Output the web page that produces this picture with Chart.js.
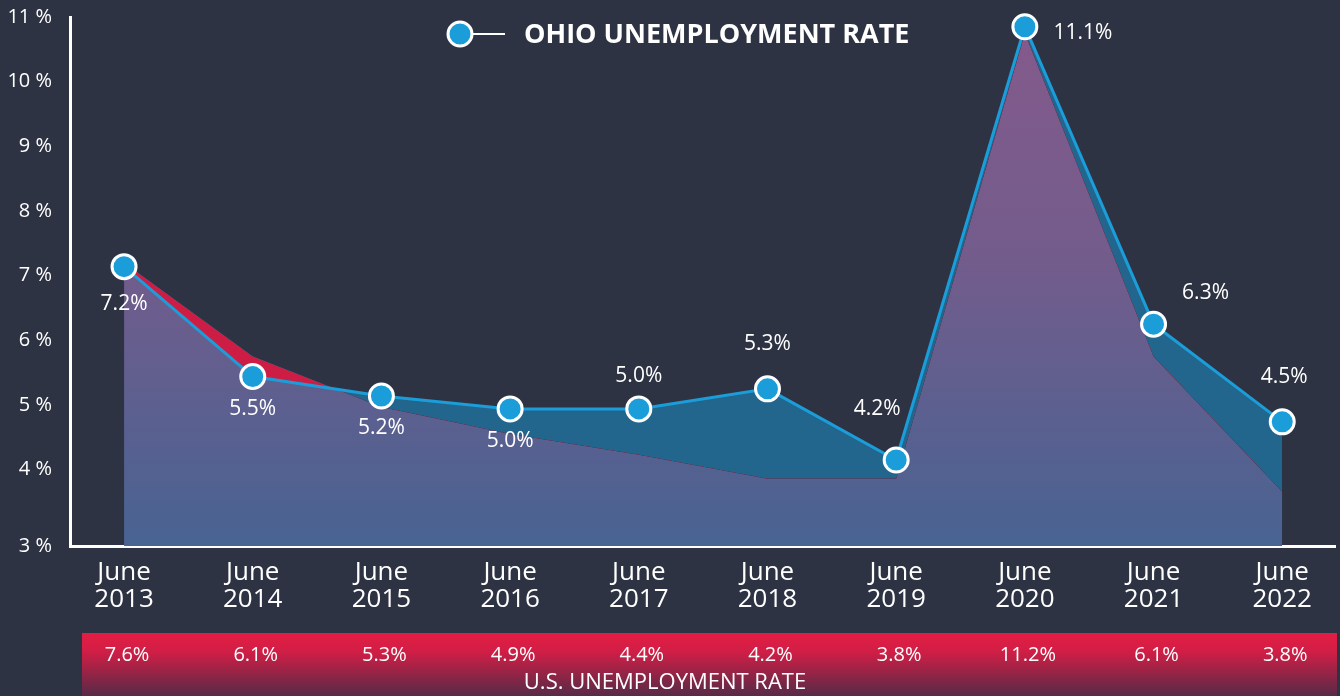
<!DOCTYPE html>
<html>
<head>
<meta charset="utf-8">
<script src="https://cdn.jsdelivr.net/npm/chart.js@4/dist/chart.umd.min.js"></script>
<style>
	html, body { margin: 0; padding: 0; background: #2d3343; overflow: hidden; }
	#wrap { width: 1340px; height: 696px; }
	canvas { display: block; }
</style>
</head>
<body>
<div id="wrap"><canvas id="chart" width="1340" height="696"></canvas></div>
<script>
const years = ['2013', '2014', '2015', '2016', '2017', '2018', '2019', '2020', '2021', '2022'];
// Ohio line, values as plotted
const ohioRate = [7.14, 5.44, 5.14, 4.94, 4.94, 5.25, 4.15, 10.85, 6.25, 4.74];
const ohioLabels = ['7.2%', '5.5%', '5.2%', '5.0%', '5.0%', '5.3%', '4.2%', '11.1%', '6.3%', '4.5%'];
// U.S. area, values as plotted
const usRate = [7.2, 5.75, 4.97, 4.55, 4.23, 3.86, 3.86, 10.75, 5.75, 3.66];
const usLabels = ['7.6%', '6.1%', '5.3%', '4.9%', '4.4%', '4.2%', '3.8%', '11.2%', '6.1%', '3.8%'];
const yTicks = [3, 4, 5, 6, 7, 8, 9, 10, 11];

const yMin = 2.82;
const font = "'Open Sans', sans-serif";
const white = '#ffffff';
const ohioBlue = '#1b9dd9';

// where each Ohio label sits relative to its point (px)
const labelOffsets = [[0, 37], [0, 32], [0, 32], [0, 32], [0, -33], [0, -45], [-19, -51], [58, 6], [52, -31], [2, -45]];

const purpleFill = (context) => {
	const {ctx, chartArea} = context.chart;
	if (!chartArea) {
		return 'rgba(120,90,140,1)';
	}
	const g = ctx.createLinearGradient(0, chartArea.top, 0, chartArea.bottom);
	g.addColorStop(0, '#845a8b');
	g.addColorStop(0.45, '#735c8c');
	g.addColorStop(1, '#486392');
	return g;
};

const extras = {
	id: 'extras',
	afterDraw(chart) {
		const {ctx} = chart;
		const x = chart.scales.x;
		const y = chart.scales.y;

		// point labels
		ctx.save();
		ctx.fillStyle = white;
		ctx.font = `21px ${font}`;
		ctx.textAlign = 'center';
		ctx.textBaseline = 'middle';
		ohioRate.forEach((v, i) => {
			const [dx, dy] = labelOffsets[i];
			ctx.fillText(ohioLabels[i], x.getPixelForValue(i) + dx, y.getPixelForValue(v) + dy);
		});
		ctx.restore();

		// legend
		ctx.save();
		const lx = 460, ly = 34;
		ctx.strokeStyle = white;
		ctx.lineWidth = 2;
		ctx.beginPath();
		ctx.moveTo(lx, ly);
		ctx.lineTo(505, ly);
		ctx.stroke();
		ctx.beginPath();
		ctx.arc(lx, ly, 12, 0, Math.PI * 2);
		ctx.fillStyle = ohioBlue;
		ctx.fill();
		ctx.lineWidth = 3;
		ctx.stroke();
		ctx.fillStyle = white;
		ctx.font = `bold 27px ${font}`;
		ctx.textAlign = 'left';
		ctx.textBaseline = 'middle';
		ctx.fillText('OHIO UNEMPLOYMENT RATE', 524, ly + 1);
		ctx.restore();

		// U.S. band
		ctx.save();
		const top = 633, bottom = chart.height;
		const g = ctx.createLinearGradient(0, top, 0, bottom);
		g.addColorStop(0, '#e51d43');
		g.addColorStop(0.3, '#d01e46');
		g.addColorStop(1, '#572a46');
		ctx.fillStyle = g;
		ctx.fillRect(82, top, 1337 - 82, bottom - top);
		ctx.fillStyle = white;
		ctx.font = `20px ${font}`;
		ctx.textAlign = 'center';
		ctx.textBaseline = 'middle';
		usLabels.forEach((t, i) => {
			ctx.fillText(t, x.getPixelForValue(i) + 3, 655);
		});
		ctx.font = `22px ${font}`;
		ctx.fillText('U.S. UNEMPLOYMENT RATE', 665, 683);
		ctx.restore();
	}
};

new Chart(document.getElementById('chart'), {
	type: 'line',
	data: {
		datasets: [
			{
				label: 'U.S. Unemployment Rate',
				data: usRate.map((v, i) => ({x: i, y: v})),
				borderWidth: 0,
				pointRadius: 0,
				backgroundColor: purpleFill,
				fill: 'start',
				order: 1
			},
			{
				label: 'Ohio Unemployment Rate',
				data: ohioRate.map((v, i) => ({x: i, y: v})),
				borderColor: ohioBlue,
				borderWidth: 3,
				pointRadius: 12,
				pointBorderWidth: 3,
				pointBorderColor: white,
				pointBackgroundColor: ohioBlue,
				fill: {target: 0, above: '#22658d', below: '#cd1d45'},
				clip: false,
				order: 0
			}
		]
	},
	options: {
		responsive: false,
		animation: false,
		devicePixelRatio: 1,
		events: [],
		layout: {autoPadding: false, padding: {top: 17, right: 5, left: 0, bottom: 0}},
		plugins: {
			legend: {display: false},
			tooltip: {enabled: false}
		},
		scales: {
			x: {
				type: 'linear',
				min: -0.42,
				max: 9.41,
				grid: {display: false},
				border: {display: true, color: white, width: 3},
				afterBuildTicks: (s) => { s.ticks = years.map((_, i) => ({value: i})); },
				afterFit: (s) => {
					s.height = 150;
					s.paddingLeft = 0;
					s.paddingRight = 0;
				},
				ticks: {
					color: white,
					padding: 5,
					autoSkip: false,
					maxRotation: 0,
					font: {family: font, size: 26, lineHeight: 1.05},
					callback: (v) => ['June', years[v]]
				}
			},
			y: {
				min: yMin,
				max: 11,
				grid: {display: false},
				border: {display: true, color: white, width: 3},
				afterBuildTicks: (s) => { s.ticks = yTicks.map((v) => ({value: v === yTicks[0] ? yMin : v})); },
				afterFit: (s) => {
					s.width = 70;
					s.paddingTop = 0;
					s.paddingBottom = 0;
				},
				ticks: {
					color: white,
					padding: 10,
					font: {family: font, size: 20},
					callback: (v) => Math.round(v) + ' %'
				}
			}
		}
	},
	plugins: [extras]
});
</script>
</body>
</html>
